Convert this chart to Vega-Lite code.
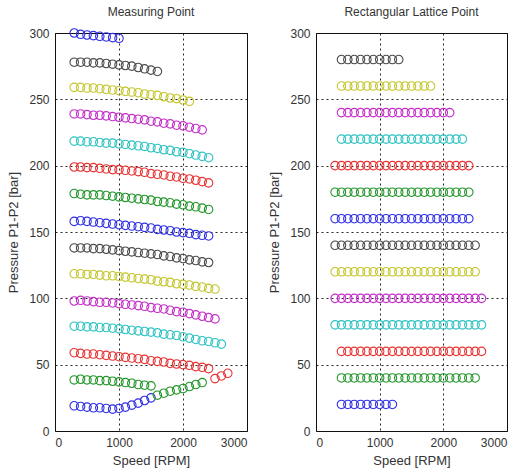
{
  "$schema": "https://vega.github.io/schema/vega-lite/v6.json",
  "padding": {"left": 7, "top": 5, "right": 0, "bottom": 0},
  "autosize": {"type": "pad"},
  "spacing": 20,
  "datasets": {
    "measuring": [
      {"speed":300,"pressure":19,"color":"b"},{"speed":400,"pressure":18.5,"color":"b"},{"speed":500,"pressure":18,"color":"b"},{"speed":600,"pressure":17.5,"color":"b"},{"speed":700,"pressure":17.5,"color":"b"},{"speed":800,"pressure":17,"color":"b"},{"speed":900,"pressure":16.5,"color":"b"},{"speed":1000,"pressure":17,"color":"b"},{"speed":1100,"pressure":18,"color":"b"},{"speed":1200,"pressure":19.5,"color":"b"},{"speed":1300,"pressure":21,"color":"b"},{"speed":1400,"pressure":23,"color":"b"},{"speed":1500,"pressure":25,"color":"b"},
      {"speed":1600,"pressure":27,"color":"g"},{"speed":1700,"pressure":28.5,"color":"g"},{"speed":1800,"pressure":30,"color":"g"},{"speed":1900,"pressure":31,"color":"g"},{"speed":2000,"pressure":32,"color":"g"},{"speed":2100,"pressure":33.5,"color":"g"},{"speed":2200,"pressure":35,"color":"g"},{"speed":2300,"pressure":36.5,"color":"g"},
      {"speed":300,"pressure":38.5,"color":"g"},{"speed":400,"pressure":39,"color":"g"},{"speed":500,"pressure":38.5,"color":"g"},{"speed":600,"pressure":38.5,"color":"g"},{"speed":700,"pressure":38,"color":"g"},{"speed":800,"pressure":38,"color":"g"},{"speed":900,"pressure":37.5,"color":"g"},{"speed":1000,"pressure":37,"color":"g"},{"speed":1100,"pressure":36.5,"color":"g"},{"speed":1200,"pressure":36,"color":"g"},{"speed":1300,"pressure":35,"color":"g"},{"speed":1400,"pressure":34.5,"color":"g"},{"speed":1500,"pressure":34,"color":"g"},
      {"speed":300,"pressure":59,"color":"r"},{"speed":400,"pressure":58.5,"color":"r"},{"speed":500,"pressure":58,"color":"r"},{"speed":600,"pressure":58,"color":"r"},{"speed":700,"pressure":57.5,"color":"r"},{"speed":800,"pressure":57,"color":"r"},{"speed":900,"pressure":56.5,"color":"r"},{"speed":1000,"pressure":56,"color":"r"},{"speed":1100,"pressure":55.5,"color":"r"},{"speed":1200,"pressure":55,"color":"r"},{"speed":1300,"pressure":54.5,"color":"r"},{"speed":1400,"pressure":54,"color":"r"},{"speed":1500,"pressure":53,"color":"r"},{"speed":1600,"pressure":52.5,"color":"r"},{"speed":1700,"pressure":52,"color":"r"},{"speed":1800,"pressure":51,"color":"r"},{"speed":1900,"pressure":50.5,"color":"r"},{"speed":2000,"pressure":50,"color":"r"},{"speed":2100,"pressure":49.5,"color":"r"},{"speed":2200,"pressure":48.5,"color":"r"},{"speed":2300,"pressure":48,"color":"r"},{"speed":2400,"pressure":47,"color":"r"},
      {"speed":2500,"pressure":39.5,"color":"r"},{"speed":2600,"pressure":41.5,"color":"r"},{"speed":2700,"pressure":43.5,"color":"r"},
      {"speed":300,"pressure":79,"color":"c"},{"speed":400,"pressure":79,"color":"c"},{"speed":500,"pressure":78.5,"color":"c"},{"speed":600,"pressure":78.5,"color":"c"},{"speed":700,"pressure":78,"color":"c"},{"speed":800,"pressure":78,"color":"c"},{"speed":900,"pressure":77.5,"color":"c"},{"speed":1000,"pressure":77,"color":"c"},{"speed":1100,"pressure":76.5,"color":"c"},{"speed":1200,"pressure":76,"color":"c"},{"speed":1300,"pressure":75.5,"color":"c"},{"speed":1400,"pressure":75,"color":"c"},{"speed":1500,"pressure":74.5,"color":"c"},{"speed":1600,"pressure":74,"color":"c"},{"speed":1700,"pressure":73,"color":"c"},{"speed":1800,"pressure":72.5,"color":"c"},{"speed":1900,"pressure":72,"color":"c"},{"speed":2000,"pressure":71,"color":"c"},{"speed":2100,"pressure":70,"color":"c"},{"speed":2200,"pressure":69,"color":"c"},{"speed":2300,"pressure":68,"color":"c"},{"speed":2400,"pressure":67.5,"color":"c"},{"speed":2500,"pressure":66.5,"color":"c"},{"speed":2600,"pressure":65.5,"color":"c"},
      {"speed":300,"pressure":98,"color":"m"},{"speed":400,"pressure":98.5,"color":"m"},{"speed":500,"pressure":98,"color":"m"},{"speed":600,"pressure":97.5,"color":"m"},{"speed":700,"pressure":97,"color":"m"},{"speed":800,"pressure":97,"color":"m"},{"speed":900,"pressure":96.5,"color":"m"},{"speed":1000,"pressure":96,"color":"m"},{"speed":1100,"pressure":95.5,"color":"m"},{"speed":1200,"pressure":95,"color":"m"},{"speed":1300,"pressure":94.5,"color":"m"},{"speed":1400,"pressure":94,"color":"m"},{"speed":1500,"pressure":93,"color":"m"},{"speed":1600,"pressure":92.5,"color":"m"},{"speed":1700,"pressure":92,"color":"m"},{"speed":1800,"pressure":91,"color":"m"},{"speed":1900,"pressure":90,"color":"m"},{"speed":2000,"pressure":89.5,"color":"m"},{"speed":2100,"pressure":88.5,"color":"m"},{"speed":2200,"pressure":87.5,"color":"m"},{"speed":2300,"pressure":86.5,"color":"m"},{"speed":2400,"pressure":85.5,"color":"m"},{"speed":2500,"pressure":84.5,"color":"m"},
      {"speed":300,"pressure":118.5,"color":"y"},{"speed":400,"pressure":118.5,"color":"y"},{"speed":500,"pressure":118,"color":"y"},{"speed":600,"pressure":118,"color":"y"},{"speed":700,"pressure":117.5,"color":"y"},{"speed":800,"pressure":117,"color":"y"},{"speed":900,"pressure":117,"color":"y"},{"speed":1000,"pressure":116.5,"color":"y"},{"speed":1100,"pressure":116,"color":"y"},{"speed":1200,"pressure":115.5,"color":"y"},{"speed":1300,"pressure":115,"color":"y"},{"speed":1400,"pressure":114.5,"color":"y"},{"speed":1500,"pressure":114,"color":"y"},{"speed":1600,"pressure":113,"color":"y"},{"speed":1700,"pressure":112.5,"color":"y"},{"speed":1800,"pressure":112,"color":"y"},{"speed":1900,"pressure":111,"color":"y"},{"speed":2000,"pressure":110.5,"color":"y"},{"speed":2100,"pressure":110,"color":"y"},{"speed":2200,"pressure":109,"color":"y"},{"speed":2300,"pressure":108.5,"color":"y"},{"speed":2400,"pressure":107.5,"color":"y"},{"speed":2500,"pressure":107,"color":"y"},
      {"speed":300,"pressure":138,"color":"k"},{"speed":400,"pressure":138,"color":"k"},{"speed":500,"pressure":138,"color":"k"},{"speed":600,"pressure":137.5,"color":"k"},{"speed":700,"pressure":137.5,"color":"k"},{"speed":800,"pressure":137,"color":"k"},{"speed":900,"pressure":136.5,"color":"k"},{"speed":1000,"pressure":136,"color":"k"},{"speed":1100,"pressure":135.5,"color":"k"},{"speed":1200,"pressure":135,"color":"k"},{"speed":1300,"pressure":134.5,"color":"k"},{"speed":1400,"pressure":134,"color":"k"},{"speed":1500,"pressure":133.5,"color":"k"},{"speed":1600,"pressure":133,"color":"k"},{"speed":1700,"pressure":132,"color":"k"},{"speed":1800,"pressure":131.5,"color":"k"},{"speed":1900,"pressure":130.5,"color":"k"},{"speed":2000,"pressure":130,"color":"k"},{"speed":2100,"pressure":129,"color":"k"},{"speed":2200,"pressure":128.5,"color":"k"},{"speed":2300,"pressure":127.5,"color":"k"},{"speed":2400,"pressure":127,"color":"k"},
      {"speed":300,"pressure":158,"color":"b"},{"speed":400,"pressure":158.5,"color":"b"},{"speed":500,"pressure":158,"color":"b"},{"speed":600,"pressure":157.5,"color":"b"},{"speed":700,"pressure":157,"color":"b"},{"speed":800,"pressure":156.5,"color":"b"},{"speed":900,"pressure":156,"color":"b"},{"speed":1000,"pressure":155.5,"color":"b"},{"speed":1100,"pressure":155,"color":"b"},{"speed":1200,"pressure":154.5,"color":"b"},{"speed":1300,"pressure":154,"color":"b"},{"speed":1400,"pressure":153.5,"color":"b"},{"speed":1500,"pressure":153,"color":"b"},{"speed":1600,"pressure":152,"color":"b"},{"speed":1700,"pressure":151.5,"color":"b"},{"speed":1800,"pressure":151,"color":"b"},{"speed":1900,"pressure":150,"color":"b"},{"speed":2000,"pressure":149.5,"color":"b"},{"speed":2100,"pressure":149,"color":"b"},{"speed":2200,"pressure":148,"color":"b"},{"speed":2300,"pressure":147.5,"color":"b"},{"speed":2400,"pressure":147,"color":"b"},
      {"speed":300,"pressure":179,"color":"g"},{"speed":400,"pressure":178.5,"color":"g"},{"speed":500,"pressure":178,"color":"g"},{"speed":600,"pressure":178,"color":"g"},{"speed":700,"pressure":178,"color":"g"},{"speed":800,"pressure":177.5,"color":"g"},{"speed":900,"pressure":177,"color":"g"},{"speed":1000,"pressure":176.5,"color":"g"},{"speed":1100,"pressure":176,"color":"g"},{"speed":1200,"pressure":175.5,"color":"g"},{"speed":1300,"pressure":175,"color":"g"},{"speed":1400,"pressure":174.5,"color":"g"},{"speed":1500,"pressure":174,"color":"g"},{"speed":1600,"pressure":173,"color":"g"},{"speed":1700,"pressure":172.5,"color":"g"},{"speed":1800,"pressure":172,"color":"g"},{"speed":1900,"pressure":171,"color":"g"},{"speed":2000,"pressure":170.5,"color":"g"},{"speed":2100,"pressure":169.5,"color":"g"},{"speed":2200,"pressure":169,"color":"g"},{"speed":2300,"pressure":168,"color":"g"},{"speed":2400,"pressure":167,"color":"g"},
      {"speed":300,"pressure":199,"color":"r"},{"speed":400,"pressure":199,"color":"r"},{"speed":500,"pressure":198.5,"color":"r"},{"speed":600,"pressure":198.5,"color":"r"},{"speed":700,"pressure":198,"color":"r"},{"speed":800,"pressure":197.5,"color":"r"},{"speed":900,"pressure":197,"color":"r"},{"speed":1000,"pressure":197,"color":"r"},{"speed":1100,"pressure":196.5,"color":"r"},{"speed":1200,"pressure":196,"color":"r"},{"speed":1300,"pressure":195.5,"color":"r"},{"speed":1400,"pressure":195,"color":"r"},{"speed":1500,"pressure":194,"color":"r"},{"speed":1600,"pressure":193.5,"color":"r"},{"speed":1700,"pressure":193,"color":"r"},{"speed":1800,"pressure":192,"color":"r"},{"speed":1900,"pressure":191.5,"color":"r"},{"speed":2000,"pressure":190.5,"color":"r"},{"speed":2100,"pressure":190,"color":"r"},{"speed":2200,"pressure":189,"color":"r"},{"speed":2300,"pressure":188,"color":"r"},{"speed":2400,"pressure":187,"color":"r"},
      {"speed":300,"pressure":218.5,"color":"c"},{"speed":400,"pressure":218.5,"color":"c"},{"speed":500,"pressure":218,"color":"c"},{"speed":600,"pressure":218,"color":"c"},{"speed":700,"pressure":217.5,"color":"c"},{"speed":800,"pressure":217,"color":"c"},{"speed":900,"pressure":217,"color":"c"},{"speed":1000,"pressure":216.5,"color":"c"},{"speed":1100,"pressure":216,"color":"c"},{"speed":1200,"pressure":215.5,"color":"c"},{"speed":1300,"pressure":215,"color":"c"},{"speed":1400,"pressure":214.5,"color":"c"},{"speed":1500,"pressure":213.5,"color":"c"},{"speed":1600,"pressure":213,"color":"c"},{"speed":1700,"pressure":212,"color":"c"},{"speed":1800,"pressure":211.5,"color":"c"},{"speed":1900,"pressure":210.5,"color":"c"},{"speed":2000,"pressure":210,"color":"c"},{"speed":2100,"pressure":209,"color":"c"},{"speed":2200,"pressure":208,"color":"c"},{"speed":2300,"pressure":207,"color":"c"},{"speed":2400,"pressure":206,"color":"c"},
      {"speed":300,"pressure":239,"color":"m"},{"speed":400,"pressure":239,"color":"m"},{"speed":500,"pressure":238.5,"color":"m"},{"speed":600,"pressure":238,"color":"m"},{"speed":700,"pressure":238,"color":"m"},{"speed":800,"pressure":237.5,"color":"m"},{"speed":900,"pressure":237,"color":"m"},{"speed":1000,"pressure":236.5,"color":"m"},{"speed":1100,"pressure":236,"color":"m"},{"speed":1200,"pressure":235.5,"color":"m"},{"speed":1300,"pressure":235,"color":"m"},{"speed":1400,"pressure":234.5,"color":"m"},{"speed":1500,"pressure":233.5,"color":"m"},{"speed":1600,"pressure":233,"color":"m"},{"speed":1700,"pressure":232,"color":"m"},{"speed":1800,"pressure":231.5,"color":"m"},{"speed":1900,"pressure":230.5,"color":"m"},{"speed":2000,"pressure":230,"color":"m"},{"speed":2100,"pressure":229,"color":"m"},{"speed":2200,"pressure":228,"color":"m"},{"speed":2300,"pressure":227,"color":"m"},
      {"speed":300,"pressure":259,"color":"y"},{"speed":400,"pressure":259,"color":"y"},{"speed":500,"pressure":258.5,"color":"y"},{"speed":600,"pressure":258.5,"color":"y"},{"speed":700,"pressure":258,"color":"y"},{"speed":800,"pressure":257.5,"color":"y"},{"speed":900,"pressure":257,"color":"y"},{"speed":1000,"pressure":256.5,"color":"y"},{"speed":1100,"pressure":256,"color":"y"},{"speed":1200,"pressure":255.5,"color":"y"},{"speed":1300,"pressure":255,"color":"y"},{"speed":1400,"pressure":254,"color":"y"},{"speed":1500,"pressure":253.5,"color":"y"},{"speed":1600,"pressure":253,"color":"y"},{"speed":1700,"pressure":252,"color":"y"},{"speed":1800,"pressure":251,"color":"y"},{"speed":1900,"pressure":250.5,"color":"y"},{"speed":2000,"pressure":249.5,"color":"y"},{"speed":2100,"pressure":248.5,"color":"y"},
      {"speed":300,"pressure":278,"color":"k"},{"speed":400,"pressure":278,"color":"k"},{"speed":500,"pressure":278,"color":"k"},{"speed":600,"pressure":277.5,"color":"k"},{"speed":700,"pressure":277.5,"color":"k"},{"speed":800,"pressure":277,"color":"k"},{"speed":900,"pressure":276.5,"color":"k"},{"speed":1000,"pressure":276,"color":"k"},{"speed":1100,"pressure":275.5,"color":"k"},{"speed":1200,"pressure":275,"color":"k"},{"speed":1300,"pressure":274,"color":"k"},{"speed":1400,"pressure":273,"color":"k"},{"speed":1500,"pressure":272,"color":"k"},{"speed":1600,"pressure":271,"color":"k"},
      {"speed":300,"pressure":300,"color":"b"},{"speed":400,"pressure":299,"color":"b"},{"speed":500,"pressure":298.5,"color":"b"},{"speed":600,"pressure":298,"color":"b"},{"speed":700,"pressure":297.5,"color":"b"},{"speed":800,"pressure":297,"color":"b"},{"speed":900,"pressure":296.5,"color":"b"},{"speed":1000,"pressure":296,"color":"b"}
    ],
    "lattice": [
      {"speed":400,"pressure":20,"color":"b"},{"speed":500,"pressure":20,"color":"b"},{"speed":600,"pressure":20,"color":"b"},{"speed":700,"pressure":20,"color":"b"},{"speed":800,"pressure":20,"color":"b"},{"speed":900,"pressure":20,"color":"b"},{"speed":1000,"pressure":20,"color":"b"},{"speed":1100,"pressure":20,"color":"b"},{"speed":1200,"pressure":20,"color":"b"},
      {"speed":400,"pressure":40,"color":"g"},{"speed":500,"pressure":40,"color":"g"},{"speed":600,"pressure":40,"color":"g"},{"speed":700,"pressure":40,"color":"g"},{"speed":800,"pressure":40,"color":"g"},{"speed":900,"pressure":40,"color":"g"},{"speed":1000,"pressure":40,"color":"g"},{"speed":1100,"pressure":40,"color":"g"},{"speed":1200,"pressure":40,"color":"g"},{"speed":1300,"pressure":40,"color":"g"},{"speed":1400,"pressure":40,"color":"g"},{"speed":1500,"pressure":40,"color":"g"},{"speed":1600,"pressure":40,"color":"g"},{"speed":1700,"pressure":40,"color":"g"},{"speed":1800,"pressure":40,"color":"g"},{"speed":1900,"pressure":40,"color":"g"},{"speed":2000,"pressure":40,"color":"g"},{"speed":2100,"pressure":40,"color":"g"},{"speed":2200,"pressure":40,"color":"g"},{"speed":2300,"pressure":40,"color":"g"},{"speed":2400,"pressure":40,"color":"g"},{"speed":2500,"pressure":40,"color":"g"},
      {"speed":400,"pressure":60,"color":"r"},{"speed":500,"pressure":60,"color":"r"},{"speed":600,"pressure":60,"color":"r"},{"speed":700,"pressure":60,"color":"r"},{"speed":800,"pressure":60,"color":"r"},{"speed":900,"pressure":60,"color":"r"},{"speed":1000,"pressure":60,"color":"r"},{"speed":1100,"pressure":60,"color":"r"},{"speed":1200,"pressure":60,"color":"r"},{"speed":1300,"pressure":60,"color":"r"},{"speed":1400,"pressure":60,"color":"r"},{"speed":1500,"pressure":60,"color":"r"},{"speed":1600,"pressure":60,"color":"r"},{"speed":1700,"pressure":60,"color":"r"},{"speed":1800,"pressure":60,"color":"r"},{"speed":1900,"pressure":60,"color":"r"},{"speed":2000,"pressure":60,"color":"r"},{"speed":2100,"pressure":60,"color":"r"},{"speed":2200,"pressure":60,"color":"r"},{"speed":2300,"pressure":60,"color":"r"},{"speed":2400,"pressure":60,"color":"r"},{"speed":2500,"pressure":60,"color":"r"},{"speed":2600,"pressure":60,"color":"r"},
      {"speed":300,"pressure":80,"color":"c"},{"speed":400,"pressure":80,"color":"c"},{"speed":500,"pressure":80,"color":"c"},{"speed":600,"pressure":80,"color":"c"},{"speed":700,"pressure":80,"color":"c"},{"speed":800,"pressure":80,"color":"c"},{"speed":900,"pressure":80,"color":"c"},{"speed":1000,"pressure":80,"color":"c"},{"speed":1100,"pressure":80,"color":"c"},{"speed":1200,"pressure":80,"color":"c"},{"speed":1300,"pressure":80,"color":"c"},{"speed":1400,"pressure":80,"color":"c"},{"speed":1500,"pressure":80,"color":"c"},{"speed":1600,"pressure":80,"color":"c"},{"speed":1700,"pressure":80,"color":"c"},{"speed":1800,"pressure":80,"color":"c"},{"speed":1900,"pressure":80,"color":"c"},{"speed":2000,"pressure":80,"color":"c"},{"speed":2100,"pressure":80,"color":"c"},{"speed":2200,"pressure":80,"color":"c"},{"speed":2300,"pressure":80,"color":"c"},{"speed":2400,"pressure":80,"color":"c"},{"speed":2500,"pressure":80,"color":"c"},{"speed":2600,"pressure":80,"color":"c"},
      {"speed":300,"pressure":100,"color":"m"},{"speed":400,"pressure":100,"color":"m"},{"speed":500,"pressure":100,"color":"m"},{"speed":600,"pressure":100,"color":"m"},{"speed":700,"pressure":100,"color":"m"},{"speed":800,"pressure":100,"color":"m"},{"speed":900,"pressure":100,"color":"m"},{"speed":1000,"pressure":100,"color":"m"},{"speed":1100,"pressure":100,"color":"m"},{"speed":1200,"pressure":100,"color":"m"},{"speed":1300,"pressure":100,"color":"m"},{"speed":1400,"pressure":100,"color":"m"},{"speed":1500,"pressure":100,"color":"m"},{"speed":1600,"pressure":100,"color":"m"},{"speed":1700,"pressure":100,"color":"m"},{"speed":1800,"pressure":100,"color":"m"},{"speed":1900,"pressure":100,"color":"m"},{"speed":2000,"pressure":100,"color":"m"},{"speed":2100,"pressure":100,"color":"m"},{"speed":2200,"pressure":100,"color":"m"},{"speed":2300,"pressure":100,"color":"m"},{"speed":2400,"pressure":100,"color":"m"},{"speed":2500,"pressure":100,"color":"m"},{"speed":2600,"pressure":100,"color":"m"},
      {"speed":300,"pressure":120,"color":"y"},{"speed":400,"pressure":120,"color":"y"},{"speed":500,"pressure":120,"color":"y"},{"speed":600,"pressure":120,"color":"y"},{"speed":700,"pressure":120,"color":"y"},{"speed":800,"pressure":120,"color":"y"},{"speed":900,"pressure":120,"color":"y"},{"speed":1000,"pressure":120,"color":"y"},{"speed":1100,"pressure":120,"color":"y"},{"speed":1200,"pressure":120,"color":"y"},{"speed":1300,"pressure":120,"color":"y"},{"speed":1400,"pressure":120,"color":"y"},{"speed":1500,"pressure":120,"color":"y"},{"speed":1600,"pressure":120,"color":"y"},{"speed":1700,"pressure":120,"color":"y"},{"speed":1800,"pressure":120,"color":"y"},{"speed":1900,"pressure":120,"color":"y"},{"speed":2000,"pressure":120,"color":"y"},{"speed":2100,"pressure":120,"color":"y"},{"speed":2200,"pressure":120,"color":"y"},{"speed":2300,"pressure":120,"color":"y"},{"speed":2400,"pressure":120,"color":"y"},{"speed":2500,"pressure":120,"color":"y"},
      {"speed":300,"pressure":140,"color":"k"},{"speed":400,"pressure":140,"color":"k"},{"speed":500,"pressure":140,"color":"k"},{"speed":600,"pressure":140,"color":"k"},{"speed":700,"pressure":140,"color":"k"},{"speed":800,"pressure":140,"color":"k"},{"speed":900,"pressure":140,"color":"k"},{"speed":1000,"pressure":140,"color":"k"},{"speed":1100,"pressure":140,"color":"k"},{"speed":1200,"pressure":140,"color":"k"},{"speed":1300,"pressure":140,"color":"k"},{"speed":1400,"pressure":140,"color":"k"},{"speed":1500,"pressure":140,"color":"k"},{"speed":1600,"pressure":140,"color":"k"},{"speed":1700,"pressure":140,"color":"k"},{"speed":1800,"pressure":140,"color":"k"},{"speed":1900,"pressure":140,"color":"k"},{"speed":2000,"pressure":140,"color":"k"},{"speed":2100,"pressure":140,"color":"k"},{"speed":2200,"pressure":140,"color":"k"},{"speed":2300,"pressure":140,"color":"k"},{"speed":2400,"pressure":140,"color":"k"},{"speed":2500,"pressure":140,"color":"k"},
      {"speed":300,"pressure":160,"color":"b"},{"speed":400,"pressure":160,"color":"b"},{"speed":500,"pressure":160,"color":"b"},{"speed":600,"pressure":160,"color":"b"},{"speed":700,"pressure":160,"color":"b"},{"speed":800,"pressure":160,"color":"b"},{"speed":900,"pressure":160,"color":"b"},{"speed":1000,"pressure":160,"color":"b"},{"speed":1100,"pressure":160,"color":"b"},{"speed":1200,"pressure":160,"color":"b"},{"speed":1300,"pressure":160,"color":"b"},{"speed":1400,"pressure":160,"color":"b"},{"speed":1500,"pressure":160,"color":"b"},{"speed":1600,"pressure":160,"color":"b"},{"speed":1700,"pressure":160,"color":"b"},{"speed":1800,"pressure":160,"color":"b"},{"speed":1900,"pressure":160,"color":"b"},{"speed":2000,"pressure":160,"color":"b"},{"speed":2100,"pressure":160,"color":"b"},{"speed":2200,"pressure":160,"color":"b"},{"speed":2300,"pressure":160,"color":"b"},{"speed":2400,"pressure":160,"color":"b"},
      {"speed":300,"pressure":180,"color":"g"},{"speed":400,"pressure":180,"color":"g"},{"speed":500,"pressure":180,"color":"g"},{"speed":600,"pressure":180,"color":"g"},{"speed":700,"pressure":180,"color":"g"},{"speed":800,"pressure":180,"color":"g"},{"speed":900,"pressure":180,"color":"g"},{"speed":1000,"pressure":180,"color":"g"},{"speed":1100,"pressure":180,"color":"g"},{"speed":1200,"pressure":180,"color":"g"},{"speed":1300,"pressure":180,"color":"g"},{"speed":1400,"pressure":180,"color":"g"},{"speed":1500,"pressure":180,"color":"g"},{"speed":1600,"pressure":180,"color":"g"},{"speed":1700,"pressure":180,"color":"g"},{"speed":1800,"pressure":180,"color":"g"},{"speed":1900,"pressure":180,"color":"g"},{"speed":2000,"pressure":180,"color":"g"},{"speed":2100,"pressure":180,"color":"g"},{"speed":2200,"pressure":180,"color":"g"},{"speed":2300,"pressure":180,"color":"g"},{"speed":2400,"pressure":180,"color":"g"},
      {"speed":300,"pressure":200,"color":"r"},{"speed":400,"pressure":200,"color":"r"},{"speed":500,"pressure":200,"color":"r"},{"speed":600,"pressure":200,"color":"r"},{"speed":700,"pressure":200,"color":"r"},{"speed":800,"pressure":200,"color":"r"},{"speed":900,"pressure":200,"color":"r"},{"speed":1000,"pressure":200,"color":"r"},{"speed":1100,"pressure":200,"color":"r"},{"speed":1200,"pressure":200,"color":"r"},{"speed":1300,"pressure":200,"color":"r"},{"speed":1400,"pressure":200,"color":"r"},{"speed":1500,"pressure":200,"color":"r"},{"speed":1600,"pressure":200,"color":"r"},{"speed":1700,"pressure":200,"color":"r"},{"speed":1800,"pressure":200,"color":"r"},{"speed":1900,"pressure":200,"color":"r"},{"speed":2000,"pressure":200,"color":"r"},{"speed":2100,"pressure":200,"color":"r"},{"speed":2200,"pressure":200,"color":"r"},{"speed":2300,"pressure":200,"color":"r"},{"speed":2400,"pressure":200,"color":"r"},
      {"speed":400,"pressure":220,"color":"c"},{"speed":500,"pressure":220,"color":"c"},{"speed":600,"pressure":220,"color":"c"},{"speed":700,"pressure":220,"color":"c"},{"speed":800,"pressure":220,"color":"c"},{"speed":900,"pressure":220,"color":"c"},{"speed":1000,"pressure":220,"color":"c"},{"speed":1100,"pressure":220,"color":"c"},{"speed":1200,"pressure":220,"color":"c"},{"speed":1300,"pressure":220,"color":"c"},{"speed":1400,"pressure":220,"color":"c"},{"speed":1500,"pressure":220,"color":"c"},{"speed":1600,"pressure":220,"color":"c"},{"speed":1700,"pressure":220,"color":"c"},{"speed":1800,"pressure":220,"color":"c"},{"speed":1900,"pressure":220,"color":"c"},{"speed":2000,"pressure":220,"color":"c"},{"speed":2100,"pressure":220,"color":"c"},{"speed":2200,"pressure":220,"color":"c"},{"speed":2300,"pressure":220,"color":"c"},
      {"speed":400,"pressure":240,"color":"m"},{"speed":500,"pressure":240,"color":"m"},{"speed":600,"pressure":240,"color":"m"},{"speed":700,"pressure":240,"color":"m"},{"speed":800,"pressure":240,"color":"m"},{"speed":900,"pressure":240,"color":"m"},{"speed":1000,"pressure":240,"color":"m"},{"speed":1100,"pressure":240,"color":"m"},{"speed":1200,"pressure":240,"color":"m"},{"speed":1300,"pressure":240,"color":"m"},{"speed":1400,"pressure":240,"color":"m"},{"speed":1500,"pressure":240,"color":"m"},{"speed":1600,"pressure":240,"color":"m"},{"speed":1700,"pressure":240,"color":"m"},{"speed":1800,"pressure":240,"color":"m"},{"speed":1900,"pressure":240,"color":"m"},{"speed":2000,"pressure":240,"color":"m"},{"speed":2100,"pressure":240,"color":"m"},
      {"speed":400,"pressure":260,"color":"y"},{"speed":500,"pressure":260,"color":"y"},{"speed":600,"pressure":260,"color":"y"},{"speed":700,"pressure":260,"color":"y"},{"speed":800,"pressure":260,"color":"y"},{"speed":900,"pressure":260,"color":"y"},{"speed":1000,"pressure":260,"color":"y"},{"speed":1100,"pressure":260,"color":"y"},{"speed":1200,"pressure":260,"color":"y"},{"speed":1300,"pressure":260,"color":"y"},{"speed":1400,"pressure":260,"color":"y"},{"speed":1500,"pressure":260,"color":"y"},{"speed":1600,"pressure":260,"color":"y"},{"speed":1700,"pressure":260,"color":"y"},{"speed":1800,"pressure":260,"color":"y"},
      {"speed":400,"pressure":280,"color":"k"},{"speed":500,"pressure":280,"color":"k"},{"speed":600,"pressure":280,"color":"k"},{"speed":700,"pressure":280,"color":"k"},{"speed":800,"pressure":280,"color":"k"},{"speed":900,"pressure":280,"color":"k"},{"speed":1000,"pressure":280,"color":"k"},{"speed":1100,"pressure":280,"color":"k"},{"speed":1200,"pressure":280,"color":"k"},{"speed":1300,"pressure":280,"color":"k"}
    ]
  },
  "hconcat": [
    {
      "title": "Measuring Point",
      "width": 192,
      "height": 398,
      "data": {"name": "measuring"},
      "mark": {"type": "point", "shape": "circle", "filled": false, "size": 72, "strokeWidth": 1.1, "opacity": 1},
      "encoding": {
        "x": {"field": "speed", "type": "quantitative", "title": "Speed [RPM]", "scale": {"domain": [0, 3000], "nice": false}, "axis": {"values": [0, 1000, 2000, 3000], "format": "d"}},
        "y": {"field": "pressure", "type": "quantitative", "title": "Pressure P1-P2 [bar]", "scale": {"domain": [0, 300], "nice": false}, "axis": {"values": [0, 50, 100, 150, 200, 250, 300], "format": "d"}},
        "color": {"field": "color", "type": "nominal", "legend": null, "scale": {"domain": ["b", "g", "r", "c", "m", "y", "k"], "range": ["#2f2fe6", "#23962a", "#e83434", "#2fc2c2", "#c42fc8", "#c4c62c", "#4a4a4a"]}}
      }
    },
    {
      "title": "Rectangular Lattice Point",
      "width": 191,
      "height": 398,
      "data": {"name": "lattice"},
      "mark": {"type": "point", "shape": "circle", "filled": false, "size": 72, "strokeWidth": 1.1, "opacity": 1},
      "encoding": {
        "x": {"field": "speed", "type": "quantitative", "title": "Speed [RPM]", "scale": {"domain": [0, 3000], "nice": false}, "axis": {"values": [0, 1000, 2000, 3000], "format": "d"}},
        "y": {"field": "pressure", "type": "quantitative", "title": "Pressure P1-P2 [bar]", "scale": {"domain": [0, 300], "nice": false}, "axis": {"values": [0, 50, 100, 150, 200, 250, 300], "format": "d"}},
        "color": {"field": "color", "type": "nominal", "legend": null, "scale": {"domain": ["b", "g", "r", "c", "m", "y", "k"], "range": ["#2f2fe6", "#23962a", "#e83434", "#2fc2c2", "#c42fc8", "#c4c62c", "#4a4a4a"]}}
      }
    }
  ],
  "resolve": {"scale": {"color": "shared"}},
  "config": {
    "font": "Liberation Sans",
    "view": {"stroke": "#111", "strokeWidth": 1},
    "axis": {
      "grid": true,
      "gridColor": "#111",
      "gridDash": [2, 3],
      "gridOpacity": 0.9,
      "domain": false,
      "ticks": false,
      "labelFontSize": 12,
      "labelColor": "#333",
      "labelPadding": 6,
      "titleFontSize": 13,
      "titleFontWeight": "normal",
      "titleColor": "#333"
    },
    "axisY": {"titlePadding": 8},
    "axisX": {"titlePadding": 6},
    "title": {"fontSize": 12, "fontWeight": "normal", "color": "#333", "offset": 8}
  }
}
